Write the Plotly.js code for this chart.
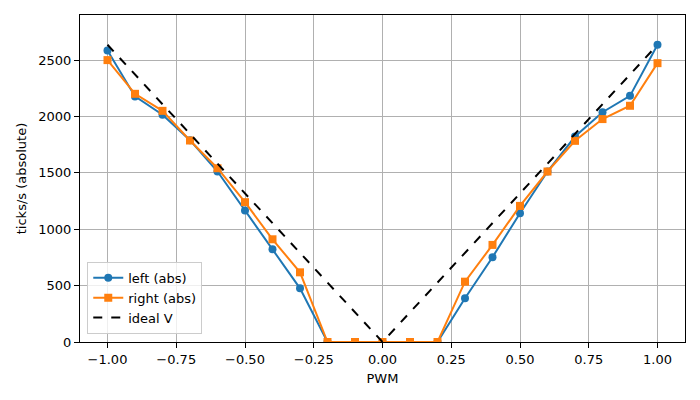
<!DOCTYPE html>
<html><head><meta charset="utf-8">
<script src="https://cdn.plot.ly/plotly-3.0.1.min.js"></script>
<style>body{margin:0;padding:0;}#chart{width:700px;height:400px;}</style>
</head><body><div id="chart"></div>
<script>
const pwm = [-1.0,-0.9,-0.8,-0.7,-0.6,-0.5,-0.4,-0.3,-0.2,-0.1,0.0,0.1,0.2,0.3,0.4,0.5,0.6,0.7,0.8,0.9,1.0];
const leftAbs = [2585,2178,2015,1790,1512,1166,822,476,0,0,0,0,0,388,752,1142,1512,1822,2038,2183,2636];
const rightAbs = [2500,2201,2050,1787,1541,1240,911,618,0,0,0,0,0,535,861,1207,1512,1784,1977,2095,2473];
const idealX = [-1.0,0.0,1.0];
const idealY = [2636,0,2636];
const xTicks = [-1.0,-0.75,-0.5,-0.25,0,0.25,0.5,0.75,1.0];
const yTicks = [0,500,1000,1500,2000,2500];

const font = {family:'DejaVu Sans', size:13, color:'#000'};
const traces = [
  {x:pwm, y:leftAbs, name:'left (abs)', mode:'lines+markers', line:{color:'#1f77b4', width:2}, marker:{symbol:'circle', size:8, color:'#1f77b4'}},
  {x:pwm, y:rightAbs, name:'right (abs)', mode:'lines+markers', line:{color:'#ff7f0e', width:2}, marker:{symbol:'square', size:8, color:'#ff7f0e'}},
  {x:idealX, y:idealY, name:'ideal V', mode:'lines', line:{color:'#000', width:2, dash:'dash'}}
];
const layout = {
  width:700, height:400,
  margin:{l:80, r:15, t:15, b:58},
  paper_bgcolor:'#fff', plot_bgcolor:'#fff',
  font:font,
  showlegend:true,
  legend:{x:0.012, y:0.025, xanchor:'left', yanchor:'bottom', bgcolor:'rgba(255,255,255,0.8)', bordercolor:'#cccccc', borderwidth:1, font:font, tracegroupgap:0},
  xaxis:{range:[-1.1,1.1], tickvals:xTicks, ticktext:xTicks.map(v=>(v<0?'\u2212':'')+Math.abs(v).toFixed(2)),
    showgrid:true, gridcolor:'#b0b0b0', gridwidth:1, zeroline:false,
    showline:true, linecolor:'#000', linewidth:1, mirror:true,
    ticks:'outside', ticklen:5, tickcolor:'#000',
    title:{text:'PWM', font:font, standoff:8}},
  yaxis:{range:[0,2900], tickvals:yTicks,
    showgrid:true, gridcolor:'#b0b0b0', gridwidth:1, zeroline:false,
    showline:true, linecolor:'#000', linewidth:1, mirror:true,
    ticks:'outside', ticklen:5, tickcolor:'#000',
    title:{text:'ticks/s (absolute)', font:font, standoff:8}}
};
Plotly.newPlot('chart', traces, layout, {displayModeBar:false, staticPlot:true});
</script></body></html>
